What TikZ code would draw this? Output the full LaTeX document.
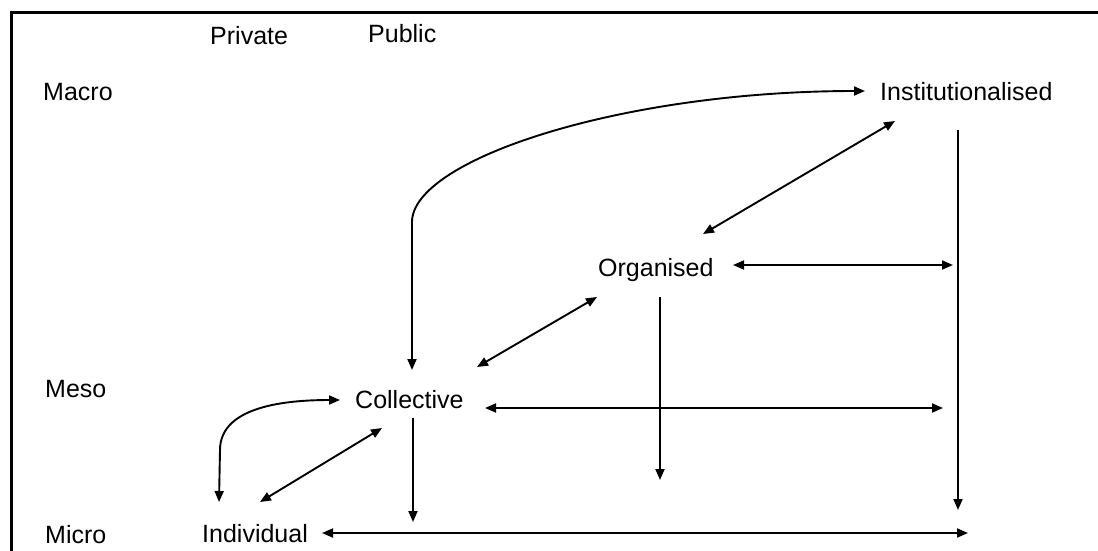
\documentclass[tikz,border=0pt]{standalone}
\usepackage{fontspec}
\setmainfont{Liberation Sans}
\usetikzlibrary{arrows.meta}
\begin{document}
\begin{tikzpicture}[x=1pt,y=-1pt,
  lbl/.style={inner sep=0pt,anchor=base west,font=\fontsize{25}{30}\selectfont},
  conn/.style={line width=1.9pt},
  >={Triangle[length=11pt,width=9pt]}]
\useasboundingbox (0,0) rectangle (1098,550);
\clip (0,0) rectangle (1098,550);
\fill[white] (0,0) rectangle (1098,550);
\draw[line width=3pt] (1110,12) -- (11,12) -- (11,570);

\node[lbl] (priv) at (210,44) {Private};
\node[lbl] (pub) at (368,42) {Public};
\node[lbl] (macro) at (43,100) {Macro};
\node[lbl] (meso) at (45,397) {Meso};
\node[lbl] (micro) at (45,543) {Micro};
\node[lbl] (inst) at (880,100) {Institutionalised};
\node[lbl] (org) at (598,276) {Organised};
\node[lbl] (coll) at (355,408) {Collective};
\node[lbl] (ind) at (202,542) {Individual};

% Collective <-> Institutionalised (big curve)
\draw[conn,<->] ([shift={(57,-38)}]coll.base west) -- ([shift={(57,-186)}]coll.base west)
  .. controls +(0,-62) and +(-245,0) .. ([shift={(-15,-9)}]inst.base west);
% Organised <-> Institutionalised
\draw[conn,<->] ([shift={(105,-42)}]org.base west) -- ([shift={(15,21)}]inst.base west);
% Organised <-> right
\draw[conn,<->] ([shift={(135,-11)}]org.base west) -- ([shift={(355,-11)}]org.base west);
% Institutionalised down
\draw[conn,->] ([shift={(78,30)}]inst.base west) -- ([shift={(78,410)}]inst.base west);
% Organised down
\draw[conn,->] ([shift={(62,21)}]org.base west) -- ([shift={(62,204)}]org.base west);
% Collective <-> Organised
\draw[conn,<->] ([shift={(122,-41)}]coll.base west) -- ([shift={(-1,21)}]org.base west);
% Collective <-> right
\draw[conn,<->] ([shift={(130,0)}]coll.base west) -- ([shift={(588,0)}]coll.base west);
% Collective down
\draw[conn,->] ([shift={(58,10)}]coll.base west) -- ([shift={(58,114)}]coll.base west);
% Collective <-> Individual
\draw[conn,<->] ([shift={(58,-40)}]ind.base west) -- ([shift={(27,20)}]coll.base west);
% small curve Individual <-> Collective
\draw[conn,<->] ([shift={(17,-40)}]ind.base west) -- ([shift={(18,-92)}]ind.base west)
  .. controls +(0,-45) and +(-50,0) .. ([shift={(-15,-8)}]coll.base west);
% Individual <-> right
\draw[conn,<->] ([shift={(120,-9)}]ind.base west) -- ([shift={(766,-9)}]ind.base west);
\end{tikzpicture}
\end{document}
